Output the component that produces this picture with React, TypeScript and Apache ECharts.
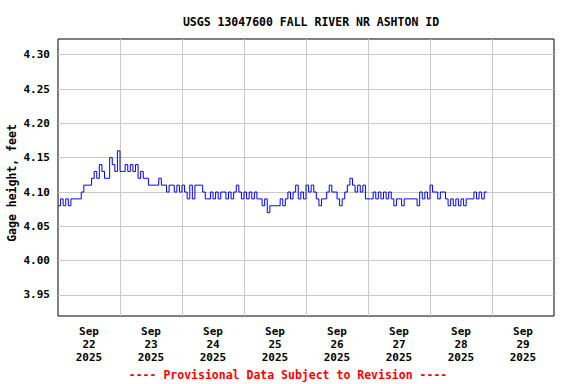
import React, { useEffect, useRef } from "react";
import * as echarts from "echarts";

const chartTitle = "USGS 13047600 FALL RIVER NR ASHTON ID";
const yAxisName = "Gage height, feet";
const footerText = "---- Provisional Data Subject to Revision ----";

// Day labels (one per day, centred between midnight gridlines)
const dayLabels = [
  "Sep\n22\n2025",
  "Sep\n23\n2025",
  "Sep\n24\n2025",
  "Sep\n25\n2025",
  "Sep\n26\n2025",
  "Sep\n27\n2025",
  "Sep\n28\n2025",
  "Sep\n29\n2025",
];

// Hourly gage height readings starting Sep 22 2025 00:00 (hours since start = index)
const sep22 = [4.08, 4.09, 4.08, 4.09, 4.08, 4.09, 4.09, 4.09, 4.09, 4.10, 4.11, 4.11, 4.11, 4.12, 4.13, 4.12, 4.14, 4.13, 4.12, 4.12, 4.15, 4.14, 4.13, 4.16];
const sep23 = [4.13, 4.13, 4.14, 4.13, 4.14, 4.13, 4.14, 4.12, 4.13, 4.12, 4.12, 4.11, 4.11, 4.11, 4.11, 4.12, 4.11, 4.11, 4.10, 4.11, 4.11, 4.10, 4.11, 4.10];
const sep24 = [4.11, 4.10, 4.09, 4.11, 4.09, 4.11, 4.11, 4.11, 4.10, 4.09, 4.09, 4.10, 4.09, 4.10, 4.09, 4.10, 4.10, 4.09, 4.10, 4.09, 4.10, 4.11, 4.10, 4.09];
const sep25 = [4.10, 4.09, 4.10, 4.09, 4.10, 4.09, 4.09, 4.08, 4.09, 4.07, 4.08, 4.08, 4.08, 4.08, 4.09, 4.08, 4.09, 4.10, 4.09, 4.10, 4.11, 4.09, 4.10, 4.09];
const sep26 = [4.11, 4.10, 4.11, 4.10, 4.09, 4.08, 4.09, 4.09, 4.10, 4.11, 4.10, 4.10, 4.09, 4.08, 4.09, 4.10, 4.11, 4.12, 4.11, 4.10, 4.11, 4.10, 4.11, 4.09];
const sep27 = [4.09, 4.09, 4.10, 4.09, 4.10, 4.09, 4.10, 4.09, 4.10, 4.09, 4.08, 4.09, 4.09, 4.08, 4.09, 4.09, 4.09, 4.09, 4.09, 4.08, 4.10, 4.09, 4.10, 4.09];
const sep28 = [4.11, 4.10, 4.10, 4.09, 4.10, 4.10, 4.09, 4.08, 4.09, 4.08, 4.09, 4.08, 4.09, 4.08, 4.09, 4.09, 4.09, 4.10, 4.09, 4.10, 4.09, 4.10, 4.10];

const gageHeight = [...sep22, ...sep23, ...sep24, ...sep25, ...sep26, ...sep27, ...sep28];

const xMinHours = 0;
const xMaxHours = 192;
const yMin = 3.9194;
const yMax = 4.3229;

const monoFont = "'DejaVu Sans Mono', monospace";

export default function App() {
  const ref = useRef<HTMLDivElement>(null);

  useEffect(() => {
    if (!ref.current) return;
    const chart = echarts.init(ref.current, null, { renderer: "svg" });
    const seriesData = gageHeight.map((v, i) => [i, v]);

    chart.setOption({
      animation: false,
      backgroundColor: "#ffffff",
      title: {
        text: chartTitle,
        left: 306,
        top: 11,
        textAlign: "center",
        textStyle: {
          fontFamily: monoFont,
          fontWeight: "bold",
          fontSize: 11.5,
          color: "#000",
        },
      },
      grid: {
        left: 58,
        top: 39,
        right: 22,
        bottom: 68,
        containLabel: false,
        outerBoundsMode: "none",
        show: true,
        borderColor: "#000",
        borderWidth: 1,
        backgroundColor: "#fff",
      },
      xAxis: [
        {
          type: "value",
          min: xMinHours,
          max: xMaxHours,
          interval: 24,
          axisLabel: { show: false },
          axisTick: { show: false },
          axisLine: { show: false },
          splitLine: {
            show: true,
            showMinLine: false,
            showMaxLine: false,
            lineStyle: { color: "#c8c8c8", width: 1 },
          },
        },
        {
          type: "category",
          data: dayLabels,
          position: "bottom",
          boundaryGap: true,
          axisLine: { show: false },
          axisTick: { show: false },
          splitLine: { show: false },
          axisLabel: {
            interval: 0,
            margin: 9,
            lineHeight: 13,
            fontFamily: monoFont,
            fontWeight: "bold",
            fontSize: 11,
            color: "#000",
          },
        },
      ],
      yAxis: {
        type: "value",
        min: yMin,
        max: yMax,
        splitNumber: 8,
        name: yAxisName,
        nameLocation: "middle",
        nameGap: 40,
        nameMoveOverlap: false,
        nameTextStyle: {
          fontFamily: monoFont,
          fontWeight: "bold",
          fontSize: 11.5,
          color: "#000",
          padding: [0, 11, 0, 0],
        },
        axisLine: { show: false },
        axisTick: { show: false },
        axisLabel: {
          showMinLabel: false,
          showMaxLabel: false,
          margin: 8,
          fontFamily: monoFont,
          fontWeight: "bold",
          fontSize: 11,
          color: "#000",
          formatter: (v: number) => {
            const r = Math.round(v * 100) / 100;
            if (Math.abs(r * 20 - Math.round(r * 20)) > 1e-6) return "";
            return r.toFixed(2);
          },
        },
        splitLine: {
          show: true,
          showMinLine: false,
          showMaxLine: false,
          lineStyle: { color: "#c8c8c8", width: 1 },
        },
      },
      graphic: [
        {
          type: "text",
          left: "center",
          top: 369,
          style: {
            text: footerText,
            fill: "#ff0000",
            font: "bold 11.5px 'DejaVu Sans Mono', monospace",
          },
        },
      ],
      series: [
        {
          type: "line",
          xAxisIndex: 0,
          yAxisIndex: 0,
          data: seriesData,
          step: "end",
          showSymbol: false,
          lineStyle: { color: "#0000ff", width: 1 },
          itemStyle: { color: "#0000ff" },
        },
      ],
    });

    return () => chart.dispose();
  }, []);

  return <div ref={ref} style={{ width: 576, height: 384, position: "absolute", left: 0, top: 0 }} />;
}
